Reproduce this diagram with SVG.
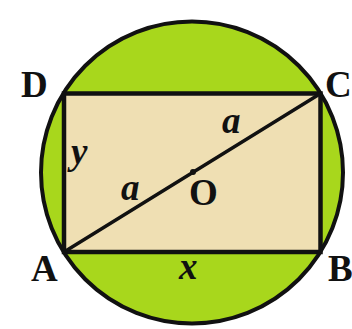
<svg xmlns="http://www.w3.org/2000/svg" width="352" height="329" viewBox="0 0 352 329">
<style>
.lbl{font-family:"Liberation Serif","Times New Roman",serif;font-weight:bold;font-size:37px;fill:#111}
.var{font-style:italic}
.ln{stroke:#111;stroke-linecap:round;fill:none}
</style>
<rect width="352" height="329" fill="#ffffff"/>
<g id="circle"><circle cx="192" cy="172.5" r="151" fill="#a8d71c" stroke="#111" stroke-width="4"/></g>
<g id="rectangle"><rect x="64" y="93.5" width="256.5" height="158.5" fill="#efdfb3" stroke="#111" stroke-width="4.5"/></g>
<g id="connectors"><line class="ln" x1="64" y1="252" x2="320.5" y2="93.5" stroke-width="3.5"/></g>
<g id="center"><circle cx="193" cy="172" r="3" fill="#111"/></g>
<g id="labels">
<text class="lbl" x="21" y="97">D</text>
<text class="lbl" x="325" y="97">C</text>
<text class="lbl" x="31" y="281">A</text>
<text class="lbl" x="328" y="281">B</text>
<text class="lbl" x="189" y="205">O</text>
<text class="lbl var" x="179" y="279">x</text>
<text class="lbl var" x="71" y="164">y</text>
<text class="lbl var" x="222" y="133">a</text>
<text class="lbl var" x="121" y="200">a</text>
</g>
</svg>
